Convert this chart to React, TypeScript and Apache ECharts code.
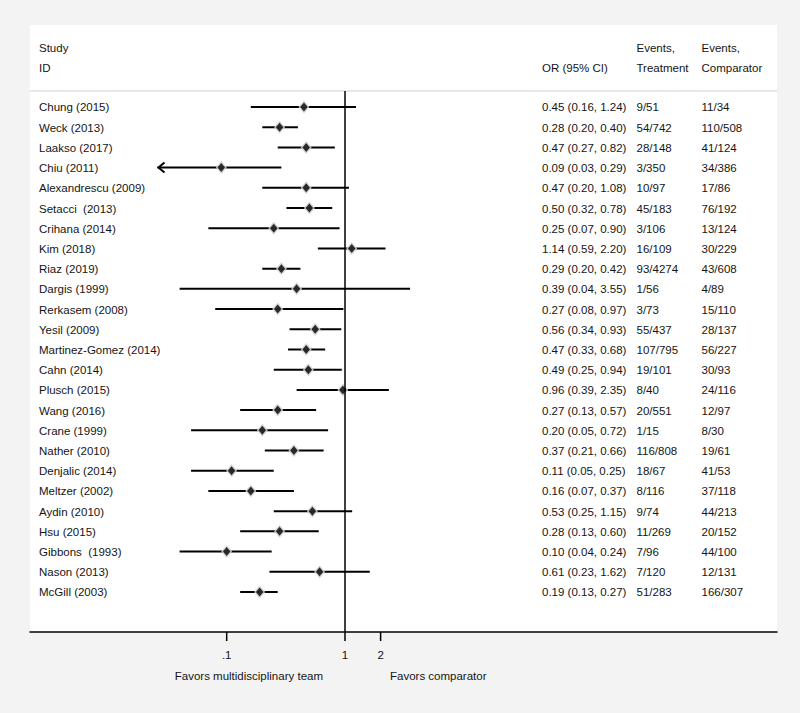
import React, { useEffect, useRef } from 'react';
import * as echarts from 'echarts';

const studies = [
  'Chung (2015)', 'Weck (2013)', 'Laakso (2017)', 'Chiu (2011)', 'Alexandrescu (2009)',
  'Setacci  (2013)', 'Crihana (2014)', 'Kim (2018)', 'Riaz (2019)', 'Dargis (1999)',
  'Rerkasem (2008)', 'Yesil (2009)', 'Martinez-Gomez (2014)', 'Cahn (2014)', 'Plusch (2015)',
  'Wang (2016)', 'Crane (1999)', 'Nather (2010)', 'Denjalic (2014)', 'Meltzer (2002)',
  'Aydin (2010)', 'Hsu (2015)', 'Gibbons  (1993)', 'Nason (2013)', 'McGill (2003)',
];
const oddsRatios = [
  0.45, 0.28, 0.47, 0.09, 0.47, 0.50, 0.25, 1.14, 0.29, 0.39, 0.27, 0.56, 0.47,
  0.49, 0.96, 0.27, 0.20, 0.37, 0.11, 0.16, 0.53, 0.28, 0.10, 0.61, 0.19,
];
const ciLower = [
  0.16, 0.20, 0.27, 0.03, 0.20, 0.32, 0.07, 0.59, 0.20, 0.04, 0.08, 0.34, 0.33,
  0.25, 0.39, 0.13, 0.05, 0.21, 0.05, 0.07, 0.25, 0.13, 0.04, 0.23, 0.13,
];
const ciUpper = [
  1.24, 0.40, 0.82, 0.29, 1.08, 0.78, 0.90, 2.20, 0.42, 3.55, 0.97, 0.93, 0.68,
  0.94, 2.35, 0.57, 0.72, 0.66, 0.25, 0.37, 1.15, 0.60, 0.24, 1.62, 0.27,
];
const eventsTreatment = [
  '9/51', '54/742', '28/148', '3/350', '10/97', '45/183', '3/106', '16/109', '93/4274',
  '1/56', '3/73', '55/437', '107/795', '19/101', '8/40', '20/551', '1/15', '116/808',
  '18/67', '8/116', '9/74', '11/269', '7/96', '7/120', '51/283',
];
const eventsComparator = [
  '11/34', '110/508', '41/124', '34/386', '17/86', '76/192', '13/124', '30/229', '43/608',
  '4/89', '15/110', '28/137', '56/227', '30/93', '24/116', '12/97', '8/30', '19/61',
  '41/53', '37/118', '44/213', '20/152', '44/100', '12/131', '166/307',
];
// studies whose interval runs past the plotted lower limit (drawn with an arrow)
const clippedStudies = ['Chiu (2011)'];
const plotLowerLimit = 0.026;

const xTickValues = [0.1, 1, 2];
const xTickLabels = ['.1', '1', '2'];

const FONT = '"Liberation Sans", Arial, Helvetica, sans-serif';
const FS = 11.5;
const TXT = '#151515';

const X_MIN = 0.002175;
const X_MAX = 4484;
const Y_MIN = -0.79;
const Y_MAX = 25.98;

export default function App() {
  const ref = useRef<HTMLDivElement>(null);

  useEffect(() => {
    if (!ref.current) return;
    const chart = echarts.init(ref.current, undefined, { renderer: 'svg' });

    const ciData = studies.map((s, i) => {
      const clipped = clippedStudies.includes(s) ? 1 : 0;
      return [clipped ? plotLowerLimit : ciLower[i], ciUpper[i], i, clipped];
    });
    const pointData = oddsRatios.map((v, i) => [v, i]);
    const rowData = studies.map((_, i) => [1, i]);
    const tickData = xTickValues.map((v, k) => [v, Y_MAX, k]);

    const option: any = {
      animation: false,
      backgroundColor: '#f3f3f3',
      grid: { left: 30, right: 23, top: 91, bottom: 81, show: false },
      xAxis: {
        type: 'log',
        logBase: 10,
        min: X_MIN,
        max: X_MAX,
        axisLine: { show: true, onZero: false, lineStyle: { color: '#000', width: 1.5 } },
        axisTick: { show: false },
        axisLabel: { show: false },
        splitLine: { show: false },
        minorTick: { show: false },
      },
      yAxis: {
        type: 'value',
        inverse: true,
        min: Y_MIN,
        max: Y_MAX,
        show: false,
        splitLine: { show: false },
      },
      graphic: [
        { type: 'rect', z: -10, shape: { x: 30, y: 25, width: 747, height: 607 }, style: { fill: '#ffffff' } },
        { type: 'line', shape: { x1: 30, y1: 91, x2: 777, y2: 91 }, style: { stroke: '#cfcfcf', lineWidth: 1 } },
        { type: 'text', x: 39, y: 47.5, style: { text: 'Study', font: `${FS}px ${FONT}`, fill: TXT, verticalAlign: 'middle', align: 'left' } },
        { type: 'text', x: 39, y: 67.5, style: { text: 'ID', font: `${FS}px ${FONT}`, fill: TXT, verticalAlign: 'middle', align: 'left' } },
        { type: 'text', x: 542, y: 67.5, style: { text: 'OR (95% CI)', font: `${FS}px ${FONT}`, fill: TXT, verticalAlign: 'middle', align: 'left' } },
        { type: 'text', x: 636.5, y: 47.5, style: { text: 'Events,', font: `${FS}px ${FONT}`, fill: TXT, verticalAlign: 'middle', align: 'left' } },
        { type: 'text', x: 636.5, y: 67.5, style: { text: 'Treatment', font: `${FS}px ${FONT}`, fill: TXT, verticalAlign: 'middle', align: 'left' } },
        { type: 'text', x: 701.5, y: 47.5, style: { text: 'Events,', font: `${FS}px ${FONT}`, fill: TXT, verticalAlign: 'middle', align: 'left' } },
        { type: 'text', x: 701.5, y: 67.5, style: { text: 'Comparator', font: `${FS}px ${FONT}`, fill: TXT, verticalAlign: 'middle', align: 'left' } },
        { type: 'text', x: 323, y: 676, style: { text: 'Favors multidisciplinary team', font: `${FS}px ${FONT}`, fill: TXT, verticalAlign: 'middle', align: 'right' } },
        { type: 'text', x: 390, y: 676, style: { text: 'Favors comparator', font: `${FS}px ${FONT}`, fill: TXT, verticalAlign: 'middle', align: 'left' } },
      ],
      series: [
        {
          type: 'custom',
          name: 'ci',
          data: ciData,
          encode: { x: [0, 1], y: 2 },
          renderItem: (params: any, api: any) => {
            const lo = api.value(0);
            const hi = api.value(1);
            const row = api.value(2);
            const clipped = api.value(3);
            const p0 = api.coord([lo, row]);
            const p1 = api.coord([hi, row]);
            const children: any[] = [
              { type: 'line', shape: { x1: p0[0], y1: p0[1], x2: p1[0], y2: p1[1] }, style: { stroke: '#000', lineWidth: 2 } },
            ];
            if (clipped) {
              children.push({
                type: 'polyline',
                shape: { points: [[p0[0] + 7, p0[1] - 5], [p0[0] + 1, p0[1]], [p0[0] + 7, p0[1] + 5]] },
                style: { stroke: '#000', lineWidth: 2, fill: null },
              });
            }
            return { type: 'group', children };
          },
          markLine: {
            silent: true,
            symbol: 'none',
            label: { show: false },
            lineStyle: { color: '#000', width: 1.5, type: 'solid' },
            data: [{ xAxis: 1 }],
          },
          z: 3,
        },
        {
          type: 'scatter',
          name: 'weight',
          data: pointData,
          symbol: 'diamond',
          symbolSize: [11, 13],
          itemStyle: { color: '#d0d0d0', opacity: 0.9 },
          z: 4,
        },
        {
          type: 'scatter',
          name: 'OR',
          data: pointData,
          symbol: 'diamond',
          symbolSize: [7.5, 9],
          itemStyle: { color: '#000' },
          z: 5,
        },
        {
          type: 'custom',
          name: 'rows',
          data: rowData,
          encode: { x: 0, y: 1 },
          renderItem: (params: any, api: any) => {
            const i = params.dataIndex;
            const y = api.coord([1, api.value(1)])[1] + 0.5;
            const orText = `${oddsRatios[i].toFixed(2)} (${ciLower[i].toFixed(2)}, ${ciUpper[i].toFixed(2)})`;
            const mk = (x: number, text: string) => ({
              type: 'text',
              x,
              y,
              style: { text, font: `${FS}px ${FONT}`, fill: TXT, verticalAlign: 'middle', align: 'left' },
            });
            return {
              type: 'group',
              children: [
                mk(39, studies[i]),
                mk(542, orText),
                mk(636.5, eventsTreatment[i]),
                mk(701.5, eventsComparator[i]),
              ],
            };
          },
          z: 6,
        },
        {
          type: 'custom',
          name: 'ticks',
          data: tickData,
          encode: { x: 0, y: 1 },
          renderItem: (params: any, api: any) => {
            const p = api.coord([api.value(0), api.value(1)]);
            const k = api.value(2);
            return {
              type: 'group',
              children: [
                { type: 'line', shape: { x1: p[0], y1: p[1], x2: p[0], y2: p[1] + 9 }, style: { stroke: '#000', lineWidth: 1.5 } },
                {
                  type: 'text',
                  x: p[0],
                  y: p[1] + 23,
                  style: { text: xTickLabels[k], font: `${FS}px ${FONT}`, fill: TXT, verticalAlign: 'middle', align: 'center' },
                },
              ],
            };
          },
          z: 6,
        },
      ],
    };

    chart.setOption(option);
    return () => chart.dispose();
  }, []);

  return (
    <div
      ref={ref}
      style={{ position: 'fixed', left: 0, top: 0, width: 800, height: 713 }}
    />
  );
}
